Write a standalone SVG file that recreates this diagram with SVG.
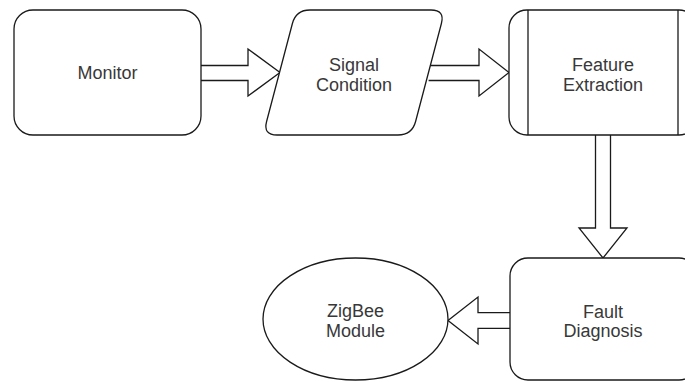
<svg xmlns="http://www.w3.org/2000/svg" width="685" height="382" viewBox="0 0 685 382">
  <style>
    .shape { fill: #ffffff; stroke: #1a1a1a; stroke-width: 1.3; }
    .arrow { fill: #ffffff; stroke: #1a1a1a; stroke-width: 1.3; stroke-linejoin: miter; }
    .label { font-family: "Liberation Sans", Arial, sans-serif; font-size: 18px; fill: #383838; text-anchor: middle; }
  </style>
  <rect width="685" height="382" fill="#ffffff"/>

  <!-- block arrows between stages -->
  <g id="connectors">
    <path class="arrow" d="M201,65.5 H248 V49 L280,72.5 L248,96 V80.5 H201"/>
    <path class="arrow" d="M428.6,65.5 H479 V49 L509,72.5 L479,96 V80.5 H428.6"/>
    <path class="arrow" d="M595.5,135 V228 H579 L603,258 L627,228 H610.5 V135"/>
    <path class="arrow" d="M510,312.7 H478 V297 L448,320.5 L478,344 V328.3 H510"/>
  </g>

  <g id="monitor">
    <rect class="shape" x="14" y="10" width="187" height="125" rx="19" ry="19"/>
    <text class="label" x="107.5" y="79">Monitor</text>
  </g>

  <g id="signal-condition">
    <path class="shape" d="M292.4,23.5 Q296,10 310,10 H431 Q445,10 441.4,23.5 L415.6,121.5 Q412,135 398,135 H277 Q263,135 266.6,121.5 Z"/>
    <text class="label" x="354" y="70.5">Signal</text>
    <text class="label" x="354" y="91">Condition</text>
  </g>

  <g id="feature-extraction">
    <rect class="shape" x="509" y="10" width="188" height="125" rx="18" ry="18"/>
    <line class="shape" x1="528" y1="10" x2="528" y2="135"/>
    <line class="shape" x1="678" y1="10" x2="678" y2="135"/>
    <text class="label" x="603" y="70.5">Feature</text>
    <text class="label" x="603" y="91">Extraction</text>
  </g>

  <g id="fault-diagnosis">
    <rect class="shape" x="510" y="258" width="187" height="122" rx="18" ry="18"/>
    <text class="label" x="603" y="317.5">Fault</text>
    <text class="label" x="603" y="337">Diagnosis</text>
  </g>

  <g id="zigbee-module">
    <ellipse class="shape" cx="355.5" cy="319" rx="92.5" ry="61"/>
    <text class="label" x="355.5" y="317">ZigBee</text>
    <text class="label" x="355.5" y="337">Module</text>
  </g>
</svg>
